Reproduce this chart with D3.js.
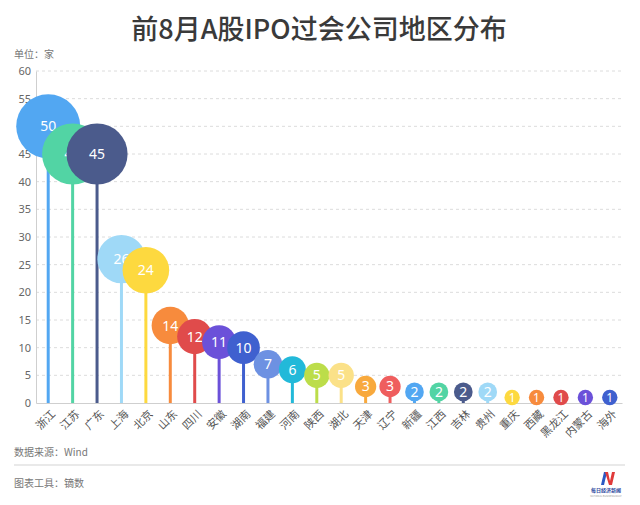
<!DOCTYPE html>
<html><head><meta charset="utf-8">
<script src="https://cdn.jsdelivr.net/npm/d3@7/dist/d3.min.js"></script>
<style>
html,body{margin:0;padding:0;background:#fff;}
svg{display:block;font-family:"Noto Sans CJK SC","Noto Sans",sans-serif;}
</style></head>
<body>
<svg id="c" width="640" height="505"></svg>
<script>
const categories = ["浙江","江苏","广东","上海","北京","山东","四川","安徽","湖南","福建","河南","陕西","湖北","天津","辽宁","新疆","江西","吉林","贵州","重庆","西藏","黑龙江","内蒙古","海外"];
const values = [50,45,45,26,24,14,12,11,10,7,6,5,5,3,3,2,2,2,2,1,1,1,1,1];
const palette = ["#52a7f2","#52d4a4","#4b5b8c","#9fd9f7","#fdd93f","#f78b3d","#e04b4b","#6b51d9","#3f60cf","#6d91e2","#22b9d9","#bcdd4a","#fbe188","#f8a93d","#ef5e5e"];
const yTicks = [0,5,10,15,20,25,30,35,40,45,50,55,60];
const title = "前8月A股IPO过会公司地区分布";
const unitLabel = "单位：家";
const sourceLabel = "数据来源：Wind";
const toolLabel = "图表工具：镝数";

const svg = d3.select("#c");
const m = {left:36, right:622, top:71, bottom:403};

const x = d3.scaleBand().domain(categories).range([m.left, m.right]).padding(0);
const y = d3.scaleLinear().domain([0,60]).range([m.bottom, m.top]);
const r = d3.scaleSqrt().domain([0,50]).range([3.7,32]);

// title
svg.append("text").attr("x",319).attr("y",39).attr("text-anchor","middle")
  .attr("font-size",27).attr("font-weight",500).attr("fill","#3a3a3a").text(title);
svg.append("text").attr("x",14).attr("y",58).attr("font-size",10).attr("fill","#777").text(unitLabel);

// grid
svg.append("g").selectAll("line").data(yTicks.filter(d=>d>0)).join("line")
  .attr("x1",m.left).attr("x2",m.right).attr("y1",d=>y(d)).attr("y2",d=>y(d))
  .attr("stroke","#dcdcdc").attr("stroke-dasharray","3,3").attr("stroke-width",1);

// y axis
const ya = svg.append("g").attr("transform",`translate(${m.left},0)`)
  .call(d3.axisLeft(y).tickValues(yTicks).tickSize(0).tickPadding(5));
ya.select(".domain").attr("stroke","#cfcfcf");
ya.selectAll("text").attr("font-size",11).attr("fill","#666").attr("font-family","Noto Sans, sans-serif");

// x axis (line + custom rotated labels)
const xa = svg.append("g").attr("transform",`translate(0,${m.bottom})`)
  .call(d3.axisBottom(x).tickSize(0).tickFormat(""));
xa.select(".domain").attr("stroke","#cfcfcf");

const cx = c => x(c) + x.bandwidth()/2;
svg.append("g").selectAll("text").data(categories).join("text")
  .attr("transform",d=>`translate(${cx(d)+5},${m.bottom+9}) rotate(-45)`)
  .attr("text-anchor","end").attr("dy","0.35em")
  .attr("font-size",11).attr("fill","#555").text(d=>d);

const data = categories.map((c,i)=>({c, v:values[i], col:palette[i%palette.length]}));

// stems
svg.append("g").selectAll("line").data(data).join("line")
  .attr("x1",d=>cx(d.c)).attr("x2",d=>cx(d.c)).attr("y1",y(0)).attr("y2",d=>y(d.v))
  .attr("stroke",d=>d.col).attr("stroke-width",3);

// bubbles
const g = svg.append("g").selectAll("g").data(data).join("g")
  .attr("transform",d=>`translate(${cx(d.c)},${y(d.v)})`);
g.append("circle").attr("r",d=>r(d.v)).attr("fill",d=>d.col);
g.append("text").attr("text-anchor","middle").attr("dy","0.36em")
  .attr("font-size",d=>r(d.v)<9?12:14).attr("fill","#fff")
  .attr("font-family","Noto Sans, sans-serif").text(d=>d.v);

// footer
svg.append("text").attr("x",14).attr("y",456).attr("font-size",10).attr("fill","#777").text(sourceLabel);
svg.append("line").attr("x1",14).attr("x2",625).attr("y1",465).attr("y2",465).attr("stroke","#e2e2e2").attr("stroke-width",1.5);
svg.append("text").attr("x",14).attr("y",487).attr("font-size",10).attr("fill","#777").text(toolLabel);

// logo
const lg = svg.append("g").attr("transform","translate(600,472)");
lg.append("path").attr("d","M1,13 L4,0 L7,0 L4,13 Z").attr("fill","#2b59c3");
lg.append("path").attr("d","M5,0 L8,0 L10,9 L12,0 L15,0 L12,13 L9,13 Z").attr("fill","#e03a3a");
svg.append("text").attr("x",606).attr("y",492).attr("text-anchor","middle").attr("font-size",5).attr("font-weight",700).attr("fill","#2d4aa0").text("每日经济新闻");
svg.append("text").attr("x",606).attr("y",497).attr("text-anchor","middle").attr("font-size",2.5).attr("fill","#999").text("NATIONAL BUSINESS DAILY");
</script>
</body></html>
